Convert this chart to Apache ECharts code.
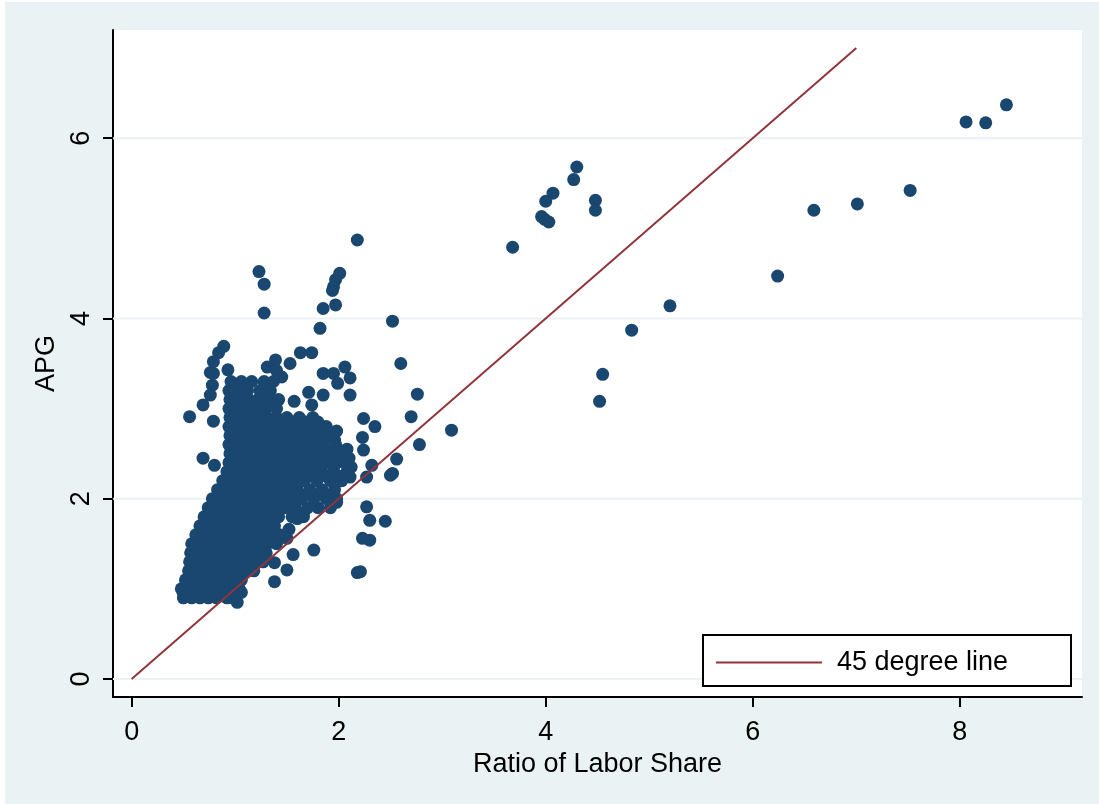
<!DOCTYPE html>
<html>
<head>
<meta charset="utf-8">
<script src="https://cdn.jsdelivr.net/npm/echarts@6/dist/echarts.min.js"></script>
<style>
  html, body { margin: 0; padding: 0; background: #ffffff; }
  #chart { width: 1099px; height: 804px; }
</style>
</head>
<body>
<div id="chart"></div>
<script>
// ---- Data ----
const xTicks = [0, 2, 4, 6, 8];
const yTicks = [0, 2, 4, 6];
const xTitle = 'Ratio of Labor Share';
const yTitle = 'APG';
const lineName = '45 degree line';
const lineData = [[0, 0], [7, 7]];
const xRange = [-0.18, 9.18];
const yRange = [-0.2, 7.2];

// outlying points
const outliers = [
  [8.45,6.37],[8.06,6.18],[8.25,6.17],[7.52,5.42],[7.01,5.27],[6.59,5.20],[6.24,4.47],
  [5.20,4.14],[4.83,3.87],[4.55,3.38],[4.52,3.08],
  [4.30,5.68],[4.27,5.54],[4.07,5.39],[4.00,5.30],[3.96,5.13],[4.03,5.07],[3.99,5.10],
  [4.48,5.31],[4.48,5.20],[3.68,4.79],
  [3.09,2.76],[2.78,2.60],[2.76,3.16],[2.70,2.91],[2.60,3.50],[2.56,2.44],[2.50,2.26],[2.52,2.28],[2.45,1.75],
  [2.18,4.87],[1.23,4.52],[1.28,4.38],[1.28,4.06],[2.01,4.50],[1.97,4.43],[1.95,4.35],[1.94,4.31],
  [1.85,4.11],[1.97,4.15],[1.82,3.89],[2.52,3.97],[1.63,3.62],[1.74,3.62],[1.39,3.54]
];

// edge points around the main cluster
const edgePoints = [
  [0.89,3.69],[0.84,3.62],[0.79,3.52],[0.76,3.40],[0.79,3.39],[0.93,3.43],[0.78,3.26],[0.76,3.15],[0.69,3.04],
  [0.56,2.91],[0.79,2.86],[0.69,2.45],[0.80,2.37],
  [1.31,3.46],[1.53,3.50],[1.40,3.42],[1.45,3.35],
  [2.06,3.46],[1.85,3.39],[1.95,3.39],[1.99,3.28],[2.11,3.34],[2.11,3.15],[1.71,3.18],[1.85,3.15],
  [1.57,3.08],[1.74,3.04],
  [2.24,2.89],[2.35,2.80],[2.23,2.68],[2.24,2.54],[2.32,2.37],[2.11,2.24],[2.27,2.24],
  [2.27,1.91],[2.30,1.76],[2.23,1.56],[2.30,1.54],[2.18,1.18],[2.21,1.19],
  [1.76,1.43],[1.56,1.38],[1.50,1.21],[1.38,1.08],[1.38,1.29],[1.50,1.56],[1.52,1.66],
  [1.98,1.96],[1.92,1.90],[1.66,1.84],[1.60,1.78],
  [0.50,0.95],[0.55,1.05],[0.60,0.92],[0.98,0.90],[1.02,0.85],[1.06,0.96]
];

// dense main cluster, row by row (y value, then x values)
const clusterRows = [
  [0.90, [0.50,0.58,0.66,0.74,0.82,0.92,0.98]],
  [1.00, [0.48,0.56,0.64,0.72,0.80,0.88,0.96,1.04]],
  [1.10, [0.52,0.60,0.68,0.76,0.84,0.92,1.00,1.06]],
  [1.20, [0.55,0.63,0.71,0.79,0.87,0.95,1.03,1.11,1.18]],
  [1.30, [0.56,0.64,0.72,0.80,0.88,0.96,1.04,1.12,1.20,1.27]],
  [1.40, [0.57,0.65,0.73,0.81,0.89,0.97,1.05,1.13,1.21,1.30]],
  [1.50, [0.58,0.66,0.74,0.82,0.90,0.98,1.06,1.14,1.22,1.31,1.40]],
  [1.60, [0.62,0.70,0.78,0.86,0.94,1.02,1.10,1.18,1.26,1.35,1.43]],
  [1.70, [0.66,0.74,0.82,0.90,0.98,1.06,1.14,1.22,1.30,1.38]],
  [1.80, [0.70,0.78,0.86,0.94,1.02,1.10,1.18,1.26,1.34,1.42,1.55,1.66]],
  [1.90, [0.74,0.82,0.90,0.98,1.06,1.14,1.22,1.30,1.38,1.48,1.58,1.70,1.80]],
  [2.00, [0.78,0.86,0.94,1.02,1.10,1.18,1.26,1.34,1.43,1.53,1.64,1.76,1.88,1.98]],
  [2.05, [1.46,1.58,1.70,1.82,1.94]],
  [2.10, [0.83,0.91,0.99,1.07,1.15,1.23,1.31,1.40,1.50,1.60,1.72,1.84,1.96]],
  [2.20, [0.88,0.96,1.04,1.12,1.20,1.28,1.37,1.46,1.56,1.67,1.79,1.92,2.03]],
  [2.25, [1.52,1.64,1.76,1.88,2.00]],
  [2.30, [0.92,1.00,1.08,1.16,1.24,1.32,1.41,1.50,1.60,1.71,1.83,1.95,2.08]],
  [2.35, [1.47,1.59,1.71,1.83,1.95,2.12]],
  [2.40, [0.94,1.02,1.10,1.18,1.26,1.34,1.43,1.53,1.63,1.74,1.86,1.98,2.06]],
  [2.45, [1.48,1.60,1.72,1.84,1.96,2.10]],
  [2.50, [0.95,1.03,1.11,1.19,1.27,1.35,1.44,1.54,1.65,1.76,1.88,2.00]],
  [2.55, [1.50,1.62,1.74,1.86,1.98,2.08]],
  [2.60, [0.94,1.02,1.10,1.18,1.26,1.34,1.43,1.52,1.62,1.73,1.85,1.97]],
  [2.65, [1.48,1.60,1.72,1.84,1.96]],
  [2.70, [0.95,1.03,1.11,1.19,1.27,1.36,1.45,1.55,1.66,1.78,1.92]],
  [2.75, [1.50,1.62,1.74,1.86,1.98]],
  [2.80, [0.94,1.02,1.10,1.18,1.26,1.35,1.44,1.54,1.64,1.76,1.88]],
  [2.85, [1.45,1.56,1.68,1.80]],
  [2.90, [0.95,1.04,1.13,1.22,1.31,1.40,1.50,1.62,1.75]],
  [3.00, [0.94,1.03,1.12,1.21,1.30,1.40]],
  [3.10, [0.95,1.04,1.13,1.22,1.32,1.42]],
  [3.20, [0.94,1.03,1.12,1.24,1.34]],
  [3.30, [0.96,1.06,1.16,1.28,1.37]]
];

// ---- Build the scatter table ----
const scatterData = outliers.concat(edgePoints);
clusterRows.forEach(function (row) {
  row[1].forEach(function (x) { scatterData.push([x, row[0]]); });
});

const FONT = 'Liberation Sans, Arial, sans-serif';
const FS = 27;

// horizontal gridlines at the y tick values, drawn under the markers
const gridSeries = yTicks.map(function (v) {
  return {
    name: 'grid' + v, type: 'line', z: 1, silent: true,
    data: [[xRange[0], v], [xRange[1], v]],
    showSymbol: false, symbol: 'none',
    lineStyle: { color: '#EAF2F3', width: 2 }
  };
});

const chart = echarts.init(document.getElementById('chart'), null, { renderer: 'canvas' });

chart.setOption({
  animation: false,
  backgroundColor: '#ffffff',
  graphic: [{
    type: 'rect', z: -10, silent: true,
    shape: { x: 5, y: 2, width: 1094, height: 802 },
    style: { fill: '#EAF2F3' }
  }],
  grid: {
    left: 113, top: 30, right: 17, bottom: 107,
    show: true, backgroundColor: '#ffffff', borderWidth: 0
  },
  legend: {
    data: [{ name: lineName, icon: 'rect' }],
    left: 703, top: 635,
    orient: 'horizontal',
    itemWidth: 106, itemHeight: 2,
    padding: [14, 14, 10, 13],
    backgroundColor: '#ffffff',
    borderColor: '#000000', borderWidth: 2, borderRadius: 0,
    selectedMode: false, z: 10,
    textStyle: { fontFamily: FONT, fontSize: FS, color: '#000', padding: [0, 0, 0, 10], width: 220, lineHeight: 26 }
  },
  xAxis: {
    type: 'value', min: xRange[0], max: xRange[1],
    name: xTitle, nameLocation: 'middle', nameGap: 41,
    nameTextStyle: { fontFamily: FONT, fontSize: FS, color: '#000' },
    axisLine: { show: true, onZero: false, lineStyle: { color: '#000', width: 2 } },
    axisTick: { show: true, length: 10, lineStyle: { color: '#000', width: 2 }, customValues: xTicks },
    axisLabel: { fontFamily: FONT, fontSize: FS, color: '#000', margin: 22, customValues: xTicks },
    splitLine: { show: false }
  },
  yAxis: {
    type: 'value', min: yRange[0], max: yRange[1],
    name: yTitle, nameLocation: 'middle', nameGap: 40, nameRotate: 90,
    nameTextStyle: { fontFamily: FONT, fontSize: FS, color: '#000' },
    axisLine: { show: true, onZero: false, lineStyle: { color: '#000', width: 2 } },
    axisTick: { show: true, length: 10, lineStyle: { color: '#000', width: 2 }, customValues: yTicks },
    axisLabel: { fontFamily: FONT, fontSize: FS, color: '#000', margin: 18, rotate: 90, customValues: yTicks },
    splitLine: { show: false }
  },
  series: gridSeries.concat([
    {
      name: 'APG', type: 'scatter', data: scatterData, z: 2,
      symbol: 'circle', symbolSize: 13,
      itemStyle: { color: '#1A476F', opacity: 1 }
    },
    {
      name: lineName, type: 'line', data: lineData, z: 3,
      showSymbol: false, symbol: 'none',
      lineStyle: { color: '#90353B', width: 2 },
      itemStyle: { color: '#90353B' }
    }
  ])
});
</script>
</body>
</html>
